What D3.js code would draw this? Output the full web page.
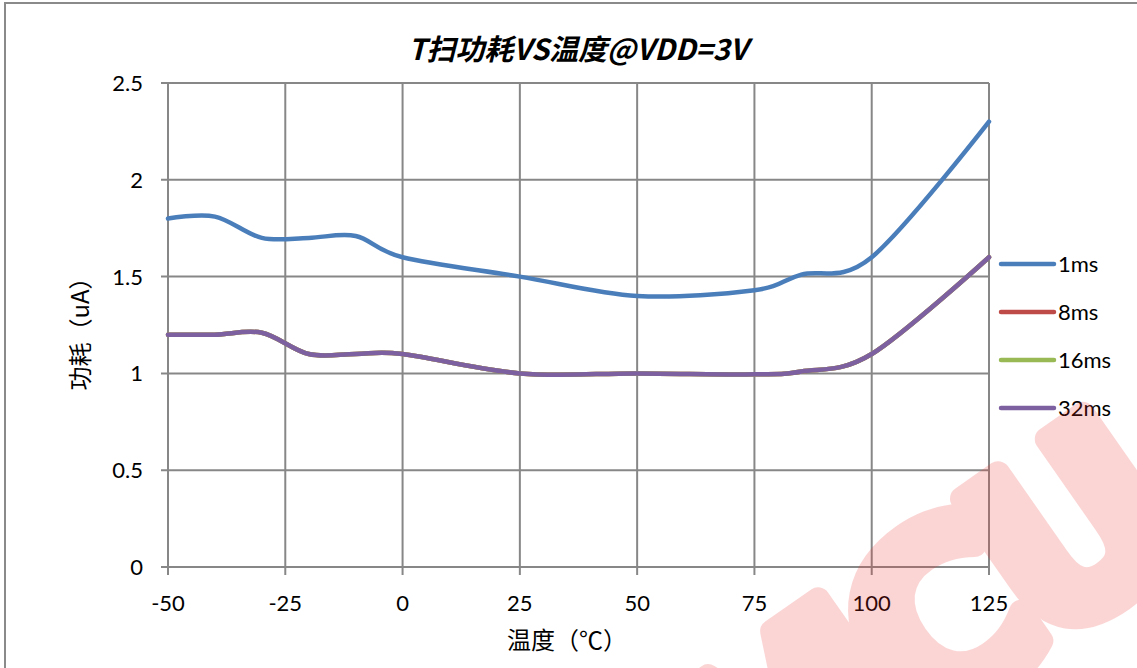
<!DOCTYPE html>
<html>
<head>
<meta charset="utf-8">
<script src="https://cdn.jsdelivr.net/npm/d3@7"></script>
<style>
  html, body { margin: 0; padding: 0; background: #fff; }
  svg { display: block; }
</style>
</head>
<body>
<svg id="chart"></svg>
<script>
// temperatures (°C) where the curves were measured
const temps = [-50, -40, -30, -20, -10, 0, 25, 50, 75, 85, 100, 125];
// power (uA) for each scan period
const ms1  = [1.80, 1.81, 1.70, 1.70, 1.71, 1.60, 1.50, 1.40, 1.43, 1.51, 1.60, 2.30];
const ms8  = [1.20, 1.20, 1.21, 1.10, 1.10, 1.10, 1.00, 1.00, 0.995, 1.01, 1.10, 1.60];
const ms16 = [1.20, 1.20, 1.21, 1.10, 1.10, 1.10, 1.00, 1.00, 0.995, 1.01, 1.10, 1.60];
const ms32 = [1.20, 1.20, 1.21, 1.10, 1.10, 1.10, 1.00, 1.00, 0.995, 1.01, 1.10, 1.60];
const seriesNames = ['1ms', '8ms', '16ms', '32ms'];
const seriesColors = ['#4a7ebb', '#be4b48', '#98b954', '#7d60a0'];
const xTicks = [-50, -25, 0, 25, 50, 75, 100, 125];
const yTicks = [0, 0.5, 1, 1.5, 2, 2.5];

const W = 1137, H = 668;
const margin = {left: 168, right: 148, top: 83, bottom: 101};
const numFont = "Lato, 'Noto Sans CJK SC', sans-serif";
const cjkFont = "'Noto Sans CJK SC', sans-serif";

const svg = d3.select('#chart').attr('width', W).attr('height', H);

// outer frame
svg.append('rect')
  .attr('x', 5).attr('y', 3)
  .attr('width', W + 10).attr('height', H + 10)
  .attr('fill', 'none')
  .attr('stroke', '#8a8a8a')
  .attr('stroke-width', 2);

const x = d3.scaleLinear().domain([-50, 125]).range([margin.left, W - margin.right]);
const y = d3.scaleLinear().domain([0, 2.5]).range([H - margin.bottom, margin.top]);

// grid
svg.append('g').selectAll('line')
  .data(xTicks)
  .join('line')
    .attr('x1', d => x(d)).attr('x2', d => x(d))
    .attr('y1', y(2.5)).attr('y2', y(0) + 8)
    .attr('stroke', '#878787').attr('stroke-width', 2);

svg.append('g').selectAll('line')
  .data(yTicks)
  .join('line')
    .attr('x1', x(-50) - 7).attr('x2', x(125))
    .attr('y1', d => y(d)).attr('y2', d => y(d))
    .attr('stroke', '#878787').attr('stroke-width', 2);

// tick labels
svg.append('g').selectAll('text')
  .data(yTicks)
  .join('text')
    .attr('x', x(-50) - 25)
    .attr('y', d => y(d))
    .attr('dy', '0.36em')
    .attr('text-anchor', 'end')
    .style('font', `22px ${numFont}`)
    .attr('fill', '#000')
    .text(d => d);

svg.append('g').selectAll('text')
  .data(xTicks)
  .join('text')
    .attr('x', d => x(d))
    .attr('y', y(0) + 36)
    .attr('dy', '0.36em')
    .attr('text-anchor', 'middle')
    .style('font', `22px ${numFont}`)
    .attr('fill', '#000')
    .text(d => d);

// titles
svg.append('text')
  .attr('x', 578).attr('y', 50)
  .attr('dy', '0.36em')
  .attr('text-anchor', 'middle')
  .style('font', `italic bold 29px ${cjkFont}`)
  .text('T扫功耗VS温度@VDD=3V');

svg.append('text')
  .attr('x', 567).attr('y', 640)
  .attr('dy', '0.36em')
  .attr('text-anchor', 'middle')
  .style('font', `24px ${cjkFont}`)
  .text('温度（℃）');

svg.append('text')
  .attr('transform', 'translate(80,328) rotate(-90)')
  .attr('dy', '0.36em')
  .attr('text-anchor', 'middle')
  .style('font', `24px ${cjkFont}`)
  .text('功耗（uA）');

// curves (Excel-style smoothing)
const allSeries = [ms1, ms8, ms16, ms32];
const line = d3.line()
  .x((d, i) => x(temps[i]))
  .y(d => y(d))
  .curve(d3.curveCardinal.tension(0));

svg.append('g').selectAll('path')
  .data(allSeries)
  .join('path')
    .attr('d', d => line(d))
    .attr('fill', 'none')
    .attr('stroke', (d, i) => seriesColors[i])
    .attr('stroke-width', 4.5)
    .attr('stroke-linejoin', 'round')
    .attr('stroke-linecap', 'round');

// legend
const legend = svg.append('g').attr('transform', 'translate(1001,264)');
const item = legend.selectAll('g')
  .data(seriesNames)
  .join('g')
    .attr('transform', (d, i) => `translate(0,${i * 48})`);
item.append('line')
  .attr('x1', 0).attr('x2', 53)
  .attr('stroke', (d, i) => seriesColors[i])
  .attr('stroke-width', 4.5)
  .attr('stroke-linecap', 'round');
item.append('text')
  .attr('x', 57)
  .attr('dy', '0.36em')
  .style('font', `22px ${numFont}`)
  .text(d => d);

// watermark
svg.append('g')
  .attr('opacity', 0.2)
  .append('text')
    .attr('transform', 'translate(914,638) rotate(-35)')
    .attr('text-anchor', 'middle')
    .attr('dy', '0.36em')
    .attr('letter-spacing', -20)
    .style('font', "bold 235px 'DejaVu Sans', sans-serif")
    .attr('fill', '#f03030')
    .attr('stroke', '#f03030')
    .attr('stroke-width', 24)
    .attr('stroke-linejoin', 'round')
    .text('MCU');
</script>
</body>
</html>
